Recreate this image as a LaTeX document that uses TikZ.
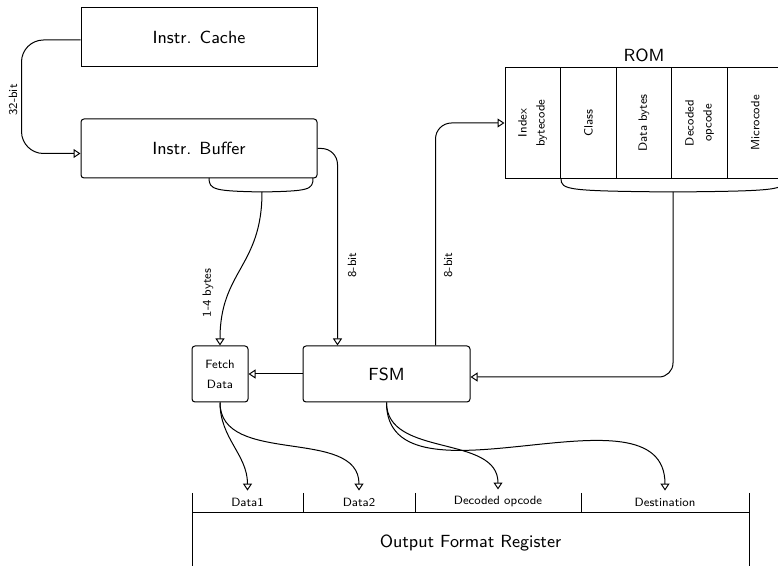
\documentclass[tikz,border=0pt]{standalone}
\usepackage{fontspec}
\usetikzlibrary{arrows.meta,calc}
\begin{document}
\begin{tikzpicture}[x=0.5pt,y=-0.5pt,line width=0.5pt,
  font=\sffamily,
  big/.style={font=\sffamily\fontsize{8.8}{10.5}\selectfont},
  small/.style={font=\sffamily\fontsize{6}{9}\selectfont},
  box/.style={draw,inner sep=0pt,big},
  rbox/.style={box,rounded corners=1.5pt},
  col/.style={draw,inner sep=0pt,minimum width=27.8pt,minimum height=55.5pt},
  arr/.style={-{Triangle[open,length=3.5pt,width=4.5pt]}},
  lbl/.style={small,rotate=90,inner sep=1pt,align=center}]
\clip (0,0) rectangle (778,566);
% boxes
\node[box,minimum width=118pt,minimum height=29.5pt] (cache) at (199,37.5) {Instr. Cache};
\node[rbox,minimum width=118pt,minimum height=29.5pt] (buf) at (199,148.5) {Instr. Buffer};
\node[rbox,small,minimum width=28pt,minimum height=28pt,align=center] (fetch) at (220,374) {Fetch\\[1pt]Data};
\node[rbox,minimum width=83.5pt,minimum height=28pt] (fsm) at (386.5,374) {FSM};
% ROM
\node[col] (r1) at (532.8,123) {};
\node[col] (r2) at (588.4,123) {};
\node[col] (r3) at (644,123) {};
\node[col] (r4) at (699.6,123) {};
\node[col] (r5) at (755.2,123) {};
\node[lbl] (t1) at (r1) {Index\\bytecode};
\node[lbl] (t2) at (r2) {Class};
\node[lbl] (t3) at (r3) {Data bytes};
\node[lbl] (t4) at (r4) {Decoded\\opcode};
\node[lbl] (t5) at (r5) {Microcode};
\node[big] (romlbl) at (644,55) {ROM};
% braces
\draw (209,178) .. controls (209,190) and (215,191) .. (262,192) .. controls (309,191) and (313,190) .. (313,178);
\coordinate (bt) at (262,192);
\draw (561,178.5) .. controls (561,190) and (567,191) .. (673,192) .. controls (779,191) and (785,190) .. (785,178.5);
\coordinate (rt) at (673,192);
% connectors
\draw[arr,rounded corners=11pt] ([yshift=-1.25pt]cache.west) -- ++(-59,0) |- ([yshift=-2.5pt]buf.west);
\node[lbl] (l32) at (13,100) {32-bit};
\draw[arr,rounded corners=8pt] (buf.east) -| ([xshift=17.5pt]fsm.north west);
\node[lbl] (l8a) at (352,265) {8-bit};
\draw[arr] (bt) to[out=-90,in=90,looseness=1.2] (fetch.north);
\node[lbl] (l14) at (208,293) {1-4 bytes};
\draw[arr,rounded corners=8pt] ([xshift=66.5pt]fsm.north west) |- (r1.west);
\node[lbl] (l8b) at (448,265) {8-bit};
\draw[arr,rounded corners=7pt] (rt) |- ([yshift=-1.5pt]fsm.east);
\draw[arr] (fsm.west) -- (fetch.east);
% output format register
\draw (192,493) -- (192,580);
\draw (749,493) -- (749,580);
\draw (192,513) -- (749,513);
\draw (303,493) -- (303,513);
\draw (415,493) -- (415,513);
\draw (581,493) -- (581,513);
\node[small] (d1) at (247.5,502) {Data1};
\node[small] (d2) at (359,502) {Data2};
\node[small] (d3) at (498,502) {Decoded opcode};
\node[small] (d4) at (665,502) {Destination};
\node[big] (ofr) at (470.5,543) {Output Format Register};
\draw[arr] (fetch.south) to[out=-90,in=90] (d1.north);
\draw[arr] (fetch.south) to[out=-90,in=90] (d2.north);
\draw[arr] (fsm.south) to[out=-90,in=90] (d3.north);
\draw[arr] (fsm.south) to[out=-90,in=90] (d4.north);
\end{tikzpicture}
\end{document}
